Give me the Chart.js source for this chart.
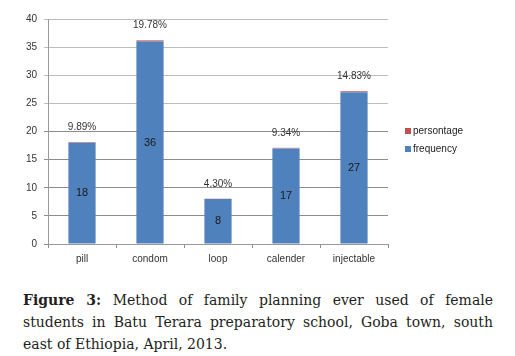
<!DOCTYPE html>
<html>
<head>
<meta charset="utf-8">
<script src="https://cdn.jsdelivr.net/npm/chart.js@4"></script>
<style>
  html, body { margin: 0; padding: 0; background: #fff; }
  #wrap { position: absolute; left: 0; top: 0; width: 515px; height: 270px; }
  #cap { position: absolute; left: 23px; top: 289px; width: 470px; font-family: "DejaVu Serif", "Liberation Serif", serif; font-size: 14px; line-height: 22px; color: #231f20; }
  #cap .l { text-align: justify; text-align-last: justify; white-space: nowrap; }
  #cap .last { text-align: left; }
</style>
</head>
<body>
<div id="wrap"><canvas id="c" width="515" height="270"></canvas></div>
<div id="cap">
  <div class="l"><b>Figure 3:</b> Method of family planning ever used of female</div>
  <div class="l">students in Batu Terara preparatory school, Goba town, south</div>
  <div class="last">east of Ethiopia, April, 2013.</div>
</div>
<script>
const categories = ['pill', 'condom', 'loop', 'calender', 'injectable'];
const frequency = [18, 36, 8, 17, 27];
const percentage = [9.89, 19.78, 4.30, 9.34, 14.83];
const yMax = 40;
const yStep = 5;

const labelPlugin = {
  id: 'labels',
  afterDatasetsDraw(chart) {
    const ctx = chart.ctx;
    ctx.save();
    ctx.textAlign = 'center';
    ctx.textBaseline = 'middle';
    const fMeta = chart.getDatasetMeta(0);
    ctx.font = '11px "Liberation Sans", sans-serif';
    ctx.fillStyle = '#1a1a1a';
    fMeta.data.forEach((el, i) => {
      ctx.fillText(String(frequency[i]), el.x, (el.y + el.base) / 2);
    });
    const pMeta = chart.getDatasetMeta(1);
    ctx.font = '10px "Liberation Sans", sans-serif';
    ctx.fillStyle = '#333';
    pMeta.data.forEach((el, i) => {
      ctx.fillText(percentage[i].toFixed(2) + '%', el.x, el.y - 15);
    });
    // legend
    const items = [
      { text: 'persontage', color: '#c0504d', y: 131 },
      { text: 'frequency', color: '#4f81bd', y: 149 }
    ];
    ctx.textAlign = 'left';
    ctx.font = '10px "Liberation Sans", sans-serif';
    items.forEach(it => {
      ctx.fillStyle = it.color;
      ctx.fillRect(405, it.y - 3, 6, 6);
      ctx.fillStyle = '#222';
      ctx.fillText(it.text, 413, it.y);
    });
    ctx.restore();
  }
};

new Chart(document.getElementById('c'), {
  type: 'bar',
  data: {
    labels: categories,
    datasets: [
      { label: 'frequency', data: frequency, backgroundColor: '#4f81bd', barPercentage: 0.4, categoryPercentage: 1.0 },
      { label: 'persontage', data: percentage.map(p => p / 100), backgroundColor: '#c0504d', barPercentage: 0.4, categoryPercentage: 1.0 }
    ]
  },
  options: {
    responsive: false,
    animation: false,
    devicePixelRatio: 1,
    layout: { padding: { left: 0, top: 19, right: 127, bottom: 0 } },
    plugins: { legend: { display: false }, tooltip: { enabled: false } },
    scales: {
      x: {
        stacked: true,
        grid: { drawOnChartArea: false, offset: true, tickLength: 4, color: '#8c8c8c' },
        border: { color: '#999' },
        ticks: { color: '#333', font: { family: '"Liberation Sans", sans-serif', size: 10 }, padding: 5 },
        afterFit(s) { s.height = 26; }
      },
      y: {
        stacked: true,
        min: 0, max: yMax,
        grid: {
          tickLength: 4,
          color: (c) => (c.tick && c.tick.value <= 20 ? '#8c8c8c' : '#bdbdbd')
        },
        border: { color: '#999' },
        ticks: { stepSize: yStep, color: '#333', font: { family: '"Liberation Sans", sans-serif', size: 10 }, padding: 7 },
        afterFit(s) { s.width = 48; }
      }
    }
  },
  plugins: [labelPlugin]
});
</script>
</body>
</html>
